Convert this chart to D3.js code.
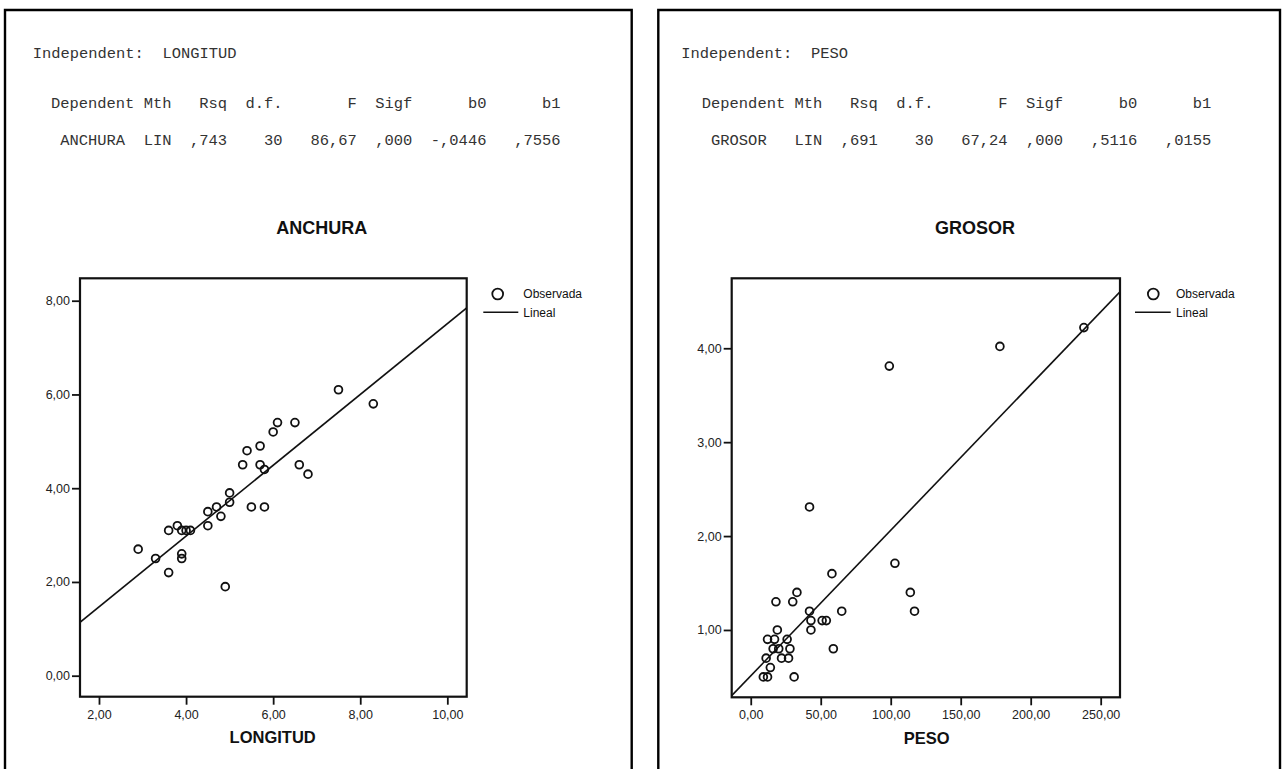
<!DOCTYPE html>
<html>
<head>
<meta charset="utf-8">
<script src="https://cdn.jsdelivr.net/npm/d3@7"></script>
<style>
body { margin: 0; background: #fff; }
.mono { font-family: "Liberation Mono", "Courier New", monospace; font-size: 15.45px; fill: #333; white-space: pre; }
.sans { font-family: "Liberation Sans", Arial, sans-serif; fill: #111; }
</style>
</head>
<body>
<svg id="chart"></svg>
<script>
// SPSS curve estimation output, two panels
const leftHeader = [
  "Independent:  LONGITUD",
  "Dependent Mth   Rsq  d.f.       F  Sigf      b0      b1",
  " ANCHURA  LIN  ,743    30   86,67  ,000  -,0446   ,7556"
];
const rightHeader = [
  "Independent:  PESO",
  "Dependent Mth   Rsq  d.f.       F  Sigf      b0      b1",
  " GROSOR   LIN  ,691    30   67,24  ,000   ,5116   ,0155"
];

const leftTitle = "ANCHURA";
const leftXLabel = "LONGITUD";
const rightTitle = "GROSOR";
const rightXLabel = "PESO";
const legendLabels = ["Observada", "Lineal"];

// LONGITUD (x) / ANCHURA (y)
const leftX = [7.5, 8.3, 6.1, 6.5, 6.0, 5.7, 5.4, 5.3, 5.7, 5.8, 6.6, 6.8, 5.0, 5.0, 5.5, 5.8,
               4.7, 4.5, 4.8, 4.5, 3.8, 3.6, 3.9, 4.0, 4.1, 2.9, 3.3, 3.9, 3.9, 3.6, 4.9];
const leftY = [6.1, 5.8, 5.4, 5.4, 5.2, 4.9, 4.8, 4.5, 4.5, 4.4, 4.5, 4.3, 3.9, 3.7, 3.6, 3.6,
               3.6, 3.5, 3.4, 3.2, 3.2, 3.1, 3.1, 3.1, 3.1, 2.7, 2.5, 2.6, 2.5, 2.2, 1.9];
const leftB0 = -0.0446;
const leftB1 = 0.7556;
const leftXTicks = [2, 4, 6, 8, 10];
const leftYTicks = [0, 2, 4, 6, 8];

// PESO (x) / GROSOR (y)
const rightX = [238, 178, 99, 42, 103, 58, 114, 117, 33, 18, 30, 42, 65, 43, 51, 54,
                43, 19, 12, 17, 26, 16, 20, 28, 59, 11, 22, 27, 14, 9, 12, 31];
const rightY = [4.22, 4.02, 3.81, 2.31, 1.71, 1.6, 1.4, 1.2, 1.4, 1.3, 1.3, 1.2, 1.2, 1.1, 1.1, 1.1,
                1.0, 1.0, 0.9, 0.9, 0.9, 0.8, 0.8, 0.8, 0.8, 0.7, 0.7, 0.7, 0.6, 0.5, 0.5, 0.5];
const rightB0 = 0.5116;
const rightB1 = 0.0155;
const rightXTicks = [0, 50, 100, 150, 200, 250];
const rightYTicks = [1, 2, 3, 4];

const svgWidth = 1286, svgHeight = 769;

const esLocale = d3.formatLocale({decimal: ",", thousands: ".", grouping: [3], currency: ["", ""]});
const fmt = esLocale.format(".2f");

const chart = d3.select("#chart")
    .attr("width", svgWidth)
    .attr("height", svgHeight);

chart.append("rect").attr("width", svgWidth).attr("height", svgHeight).attr("fill", "#fff");

function drawPanel(p) {
    const g = chart.append("g");

    // panel border (open at the bottom, page continues)
    g.append("path")
        .attr("d", `M${p.bx0},${svgHeight + 10}V${p.by}H${p.bx1}V${svgHeight + 10}`)
        .attr("fill", "none").attr("stroke", "#000").attr("stroke-width", 2.4);

    // header text
    g.selectAll("text.hdr")
        .data(p.header)
        .enter().append("text")
        .attr("class", "mono hdr")
        .attr("xml:space", "preserve")
        .attr("x", (d, i) => i == 0 ? p.hx0 : p.hx1)
        .attr("y", (d, i) => p.hy[i])
        .text(d => d);

    var xScale = d3.scaleLinear().domain(p.xDomain).range([p.fx0, p.fx1]);
    var yScale = d3.scaleLinear().domain(p.yDomain).range([p.fy1, p.fy0]);

    // title
    g.append("text")
        .attr("class", "sans")
        .attr("x", p.titleX).attr("y", 234)
        .attr("text-anchor", "middle")
        .style("font-size", "18px").style("font-weight", "bold")
        .text(p.title);

    // axes
    var xAxis = d3.axisBottom(xScale).tickValues(p.xTicks).tickFormat(fmt).tickSize(8).tickPadding(5);
    var yAxis = d3.axisLeft(yScale).tickValues(p.yTicks).tickFormat(fmt).tickSize(8).tickPadding(2);

    g.append("g")
        .attr("transform", `translate(0,${p.fy1})`)
        .call(xAxis)
        .call(a => a.select(".domain").remove());
    g.append("g")
        .attr("transform", `translate(${p.fx0},0)`)
        .call(yAxis)
        .call(a => a.select(".domain").remove());
    g.selectAll(".tick line").attr("stroke", "#111").attr("stroke-width", 1.8);
    g.selectAll(".tick text")
        .attr("fill", "#222")
        .style("font-family", '"Liberation Sans", Arial, sans-serif')
        .style("font-size", "12.5px");

    g.append("text")
        .attr("class", "sans")
        .attr("x", p.xlabX).attr("y", p.xlabY)
        .attr("text-anchor", "middle")
        .style("font-size", "16.5px").style("font-weight", "bold")
        .text(p.xlabel);

    // clip for the fit line
    const clipId = "clip" + p.id;
    g.append("clipPath").attr("id", clipId)
        .append("rect")
        .attr("x", p.fx0).attr("y", p.fy0)
        .attr("width", p.fx1 - p.fx0).attr("height", p.fy1 - p.fy0);

    // linear fit
    var fitLine = d3.line()
        .x(d => xScale(d))
        .y(d => yScale(p.b0 + p.b1 * d));
    g.append("path")
        .datum(p.xDomain)
        .attr("clip-path", `url(#${clipId})`)
        .attr("d", fitLine)
        .attr("fill", "none").attr("stroke", "#111").attr("stroke-width", 1.6);

    // observed points
    g.selectAll("circle.obs")
        .data(p.xs.map((x, i) => ({x: x, y: p.ys[i]})))
        .enter().append("circle")
        .attr("class", "obs")
        .attr("cx", d => xScale(d.x))
        .attr("cy", d => yScale(d.y))
        .attr("r", 3.9)
        .attr("fill", "none").attr("stroke", "#111").attr("stroke-width", 1.8);

    // frame
    g.append("rect")
        .attr("x", p.fx0).attr("y", p.fy0)
        .attr("width", p.fx1 - p.fx0).attr("height", p.fy1 - p.fy0)
        .attr("fill", "none").attr("stroke", "#111").attr("stroke-width", 2.2);

    // legend
    g.append("circle")
        .attr("cx", p.lcx).attr("cy", 294).attr("r", 5.4)
        .attr("fill", "none").attr("stroke", "#111").attr("stroke-width", 1.8);
    g.append("line")
        .attr("x1", p.lx0).attr("x2", p.lx1).attr("y1", 312.3).attr("y2", 312.3)
        .attr("stroke", "#111").attr("stroke-width", 1.6);
    g.selectAll("text.leg")
        .data(legendLabels)
        .enter().append("text")
        .attr("class", "sans leg")
        .attr("x", p.ltx)
        .attr("y", (d, i) => i == 0 ? 298 : 316.5)
        .style("font-size", "12px")
        .text(d => d);
}

drawPanel({
    id: "L", header: leftHeader, title: leftTitle, xlabel: leftXLabel,
    xs: leftX, ys: leftY, b0: leftB0, b1: leftB1, xTicks: leftXTicks, yTicks: leftYTicks,
    bx0: 5, bx1: 631.7, by: 10,
    hx0: 32.7, hx1: 51, hy: [58, 108, 145],
    fx0: 80, fx1: 466.7, fy0: 278.3, fy1: 696.7,
    xDomain: [1.564, 10.445], yDomain: [-0.448, 8.478],
    titleX: 321.7, xlabX: 272.7, xlabY: 743.3,
    lcx: 497.7, ltx: 523.3, lx0: 483.3, lx1: 518.3
});

drawPanel({
    id: "R", header: rightHeader, title: rightTitle, xlabel: rightXLabel,
    xs: rightX, ys: rightY, b0: rightB0, b1: rightB1, xTicks: rightXTicks, yTicks: rightYTicks,
    bx0: 658.3, bx1: 1280, by: 10,
    hx0: 681.2, hx1: 701.8, hy: [58, 108, 145],
    fx0: 731.7, fx1: 1120, fy0: 278.3, fy1: 697.3,
    xDomain: [-13.6, 263.8], yDomain: [0.283, 4.745],
    titleX: 975, xlabX: 926.7, xlabY: 744.3,
    lcx: 1153.3, ltx: 1176, lx0: 1135, lx1: 1170.7
});
</script>
</body>
</html>
